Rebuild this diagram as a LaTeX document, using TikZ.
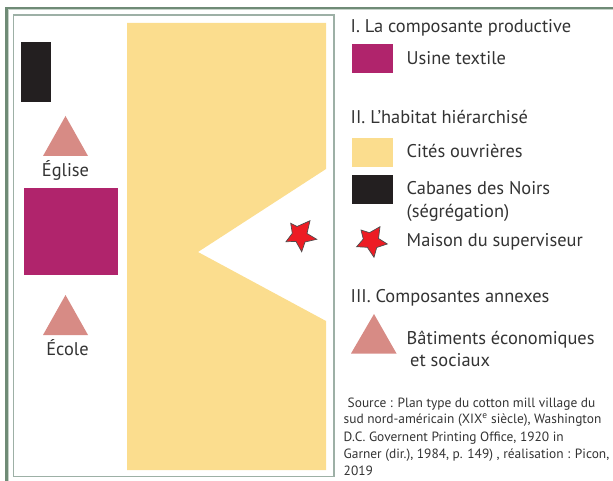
\documentclass[tikz,border=0pt]{standalone}
\usepackage{fontspec}
\setmainfont{PT Sans}
\definecolor{frameA}{HTML}{6F8B76}
\definecolor{frameB}{HTML}{9DB0A6}
\definecolor{frameC}{HTML}{C5D2C8}
\definecolor{usine}{HTML}{B0246C}
\definecolor{cite}{HTML}{FBDD8E}
\definecolor{cabane}{HTML}{231F20}
\definecolor{batim}{HTML}{D78B85}
\definecolor{etoile}{HTML}{ED1C24}
\definecolor{texte}{HTML}{333333}
\tikzset{
  lab/.style={anchor=base west,inner sep=0pt,text=texte,font=\fontsize{18.4}{20}\selectfont},
  labc/.style={anchor=base,inner sep=0pt,text=texte,font=\fontsize{18.4}{20}\selectfont},
  src/.style={anchor=base west,inner sep=0pt,text=texte,font=\fontsize{13.4}{16}\selectfont},
  star/.style={fill=etoile,draw=cabane!80,line width=0.7pt,line join=miter},
  tri/.style={fill=batim}
}
\begin{document}
\begin{tikzpicture}[x=1pt,y=-1pt]
\useasboundingbox (0,0) rectangle (613,481);
% frames
\draw[frameC,line width=1pt] (613,10) -- (8.8,10) -- (8.8,481);
\draw[frameA,line width=2.6pt] (613,8) -- (6.5,8) -- (6.5,481);
\draw[frameB,line width=1.3pt] (13.5,15) rectangle (334,476.5);
% plan
\fill[cabane] (21,42) rectangle (51,102);
\fill[tri] (65.5,116) -- (88,156) -- (43,156) -- cycle;
\fill[usine] (24,188) rectangle (118,275);
\fill[tri] (65.5,295) -- (88,335) -- (43,335) -- cycle;
\fill[cite] (127,23) -- (326,23) -- (326,169) -- (198,252) -- (326,321) -- (326,470) -- (127,470) -- cycle;
\draw[star] (290.7,223.3) -- (297,226.5) -- (310,220.7) -- (307,233.5) -- (316.7,239.3) -- (305,242) -- (301.7,251.7) -- (296,241.5) -- (286,241.7) -- (292.3,233.3) -- cycle;
\node[labc] (eglise) at (65.5,176.5) {Église};
\node[labc] (ecole) at (67.5,355.5) {École};
% legend
\node[lab] (t1) at (350.5,33) {I. La composante productive};
\fill[usine] (352,44) rectangle (393,73);
\node[lab] (l1) at (406.5,64.5) {Usine textile};
\node[lab] (t2) at (350.5,123.7) {II. L’habitat hiérarchisé};
\fill[cite] (352,138) rectangle (393,167);
\node[lab] (l2) at (406.5,158) {Cités ouvrières};
\fill[cabane] (352,175) rectangle (393,204);
\node[lab] (l3) at (406.5,195) {Cabanes des Noirs};
\node[lab] (l3b) at (406.5,218) {(ségrégation)};
\draw[star] (361,230) -- (369.5,232.7) -- (380,226.7) -- (378.5,238.5) -- (387.3,244) -- (376.7,247.5) -- (374,257.3) -- (367.3,247.3) -- (356.7,246.7) -- (363.3,239) -- cycle;
\node[lab] (l4) at (406.5,247) {Maison du superviseur};
\node[lab] (t3) at (350.5,302.7) {III. Composantes annexes};
\fill[tri] (374,314) -- (396.5,353.5) -- (351,353.5) -- cycle;
\node[lab] (l5) at (406.5,344) {Bâtiments économiques};
\node[lab] (l5b) at (410,366.7) {et sociaux};
% source
\node[src] (s1) at (347.5,407) {Source : Plan type du cotton mill village du};
\node[src] (s2) at (343.5,423.5) {sud nord-américain (XIX\textsuperscript{e} siècle), Washington};
\node[src] (s3) at (343.5,441) {D.C. Governent Printing Office, 1920 in};
\node[src] (s4) at (343.5,458.5) {Garner (dir.), 1984, p. 149) , réalisation : Picon,};
\node[src] (s5) at (343.5,475.5) {2019};
\end{tikzpicture}
\end{document}
